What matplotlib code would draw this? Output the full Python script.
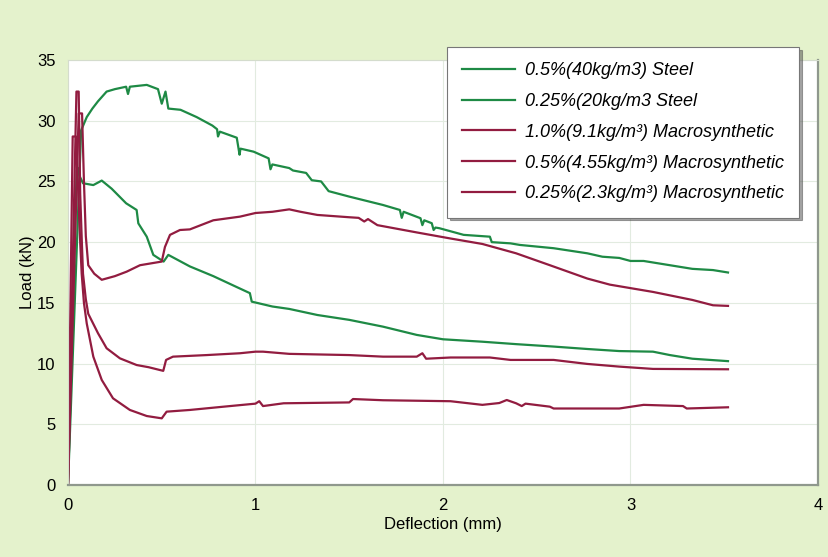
import numpy as np
import matplotlib
matplotlib.use('Agg')
import matplotlib.pyplot as plt

plt.rcParams['font.family'] = ['Liberation Sans', 'DejaVu Sans']

# curvas carga-deflexion
steel_05_x = [0, 0.07, 0.1, 0.13, 0.16, 0.206, 0.25, 0.31, 0.32, 0.33, 0.42, 0.48, 0.50, 0.52,
              0.535, 0.6, 0.686, 0.77, 0.795, 0.80, 0.81, 0.9, 0.915, 0.92, 0.99, 1.07, 1.08,
              1.09, 1.18, 1.2, 1.27, 1.3, 1.35, 1.39, 1.5, 1.68, 1.77, 1.78, 1.79, 1.88, 1.89,
              1.90, 1.94, 1.95, 1.96, 1.98, 2.11, 2.25, 2.26, 2.36, 2.41, 2.59, 2.77, 2.85, 2.94,
              3.0, 3.07, 3.21, 3.33, 3.44, 3.52]
steel_05_y = [0, 29.2, 30.3, 31.0, 31.6, 32.4, 32.6, 32.8, 32.2, 32.8, 32.95, 32.6, 31.4, 32.4,
              31.0, 30.9, 30.3, 29.6, 29.3, 28.7, 29.1, 28.6, 27.2, 27.7, 27.45, 26.9, 26.0,
              26.4, 26.1, 25.9, 25.7, 25.1, 25.0, 24.2, 23.75, 23.06, 22.65, 22.0, 22.5, 21.97, 21.4,
              21.8, 21.56, 21.0, 21.2, 21.15, 20.6, 20.45, 20.0, 19.9, 19.77, 19.5, 19.08, 18.8, 18.7,
              18.45, 18.45, 18.1, 17.8, 17.7, 17.5]

steel_025_x = [0, 0.046, 0.055, 0.06, 0.08, 0.135, 0.18, 0.233, 0.31, 0.366, 0.375, 0.42, 0.455,
               0.51, 0.535, 0.65, 0.775, 0.9, 0.97, 0.98, 1.09, 1.18, 1.33, 1.5, 1.68, 1.86, 2.0,
               2.21, 2.39, 2.59, 2.77, 2.94, 3.12, 3.21, 3.33, 3.52]
steel_025_y = [0, 25.9, 26.1, 25.5, 24.85, 24.7, 25.07, 24.4, 23.2, 22.65, 21.55, 20.45, 18.95,
               18.4, 18.95, 18.0, 17.2, 16.3, 15.8, 15.1, 14.7, 14.5, 14.0, 13.6, 13.04, 12.36, 12.0,
               11.8, 11.6, 11.4, 11.2, 11.03, 10.98, 10.7, 10.4, 10.2]

macro_10_x = [0, 0.057, 0.075, 0.085, 0.095, 0.108, 0.14, 0.18, 0.25, 0.313, 0.384, 0.5, 0.517,
              0.544, 0.597, 0.65, 0.775, 0.917, 1.0, 1.09, 1.18, 1.24, 1.33, 1.5, 1.55, 1.58, 1.6,
              1.65, 1.72, 1.86, 2.04, 2.21, 2.39, 2.57, 2.77, 2.89, 3.12, 3.33, 3.44, 3.52]
macro_10_y = [0, 30.6, 30.6, 25.0, 20.5, 18.1, 17.4, 16.9, 17.2, 17.57, 18.1, 18.4, 19.6,
              20.6, 21.0, 21.05, 21.8, 22.1, 22.4, 22.5, 22.7, 22.5, 22.24, 22.05, 22.0, 21.7, 21.9,
              21.4, 21.2, 20.8, 20.3, 19.85, 19.08, 18.1, 17.0, 16.5, 15.9, 15.24, 14.8, 14.75]

macro_05_x = [0, 0.045, 0.057, 0.065, 0.075, 0.08, 0.095, 0.108, 0.16, 0.206, 0.277, 0.366, 0.43,
              0.508, 0.523, 0.56, 0.74, 0.917, 1.0, 1.04, 1.18, 1.5, 1.68, 1.86, 1.89, 1.91, 2.04,
              2.25, 2.36, 2.59, 2.77, 2.94, 3.12, 3.52]
macro_05_y = [0, 32.4, 32.4, 24.0, 19.5, 17.4, 15.3, 14.1, 12.5, 11.26, 10.43, 9.88, 9.7,
              9.4, 10.3, 10.57, 10.7, 10.85, 10.98, 10.98, 10.8, 10.7, 10.57, 10.57, 10.85, 10.4, 10.5,
              10.5, 10.3, 10.3, 9.97, 9.75, 9.56, 9.53]

macro_025_x = [0, 0.025, 0.043, 0.055, 0.065, 0.073, 0.085, 0.1, 0.135, 0.18, 0.24, 0.33, 0.42,
               0.5, 0.526, 0.65, 0.83, 1.0, 1.02, 1.04, 1.15, 1.5, 1.52, 1.68, 2.04, 2.21, 2.30,
               2.34, 2.39, 2.42, 2.44, 2.57, 2.59, 2.94, 3.07, 3.28, 3.3, 3.52]
macro_025_y = [0, 28.7, 28.7, 24.0, 20.0, 17.4, 15.0, 13.3, 10.57, 8.65, 7.14, 6.18, 5.68,
               5.49, 6.04, 6.18, 6.45, 6.7, 6.9, 6.5, 6.73, 6.8, 7.08, 6.98, 6.9, 6.6, 6.75,
               7.0, 6.73, 6.5, 6.7, 6.45, 6.3, 6.3, 6.6, 6.5, 6.3, 6.4]

etiquetas = ['0.5%(40kg/m3) Steel', '0.25%(20kg/m3 Steel',
             '1.0%(9.1kg/m³) Macrosynthetic', '0.5%(4.55kg/m³) Macrosynthetic',
             '0.25%(2.3kg/m³) Macrosynthetic']

verde = '#1e8a45'
rojo = '#921c40'

fig = plt.figure(figsize=(8.29, 5.57), dpi=100)
fig.patch.set_facecolor('#e4f2cc')
ax = fig.add_axes([68/829, 1 - 485/557, 750/829, 425/557])
ax.set_facecolor('white')

l1, = ax.plot(steel_05_x, steel_05_y, color=verde, lw=1.6)
l2, = ax.plot(steel_025_x, steel_025_y, color=verde, lw=1.6)
l3, = ax.plot(macro_10_x, macro_10_y, color=rojo, lw=1.6)
l4, = ax.plot(macro_05_x, macro_05_y, color=rojo, lw=1.6)
l5, = ax.plot(macro_025_x, macro_025_y, color=rojo, lw=1.6)

ax.set_xlim(0, 4)
ax.set_ylim(0, 35)
ax.set_xticks([0, 1, 2, 3, 4])
ax.set_yticks(np.arange(0, 36, 5))
ax.tick_params(length=0, labelsize=12, pad=9)
ax.grid(True, color='#e2ebe0', lw=0.8)
ax.set_axisbelow(True)
ax.set_xlabel('Deflection (mm)', fontsize=12, labelpad=3)
ax.set_ylabel('Load (kN)', fontsize=12, labelpad=1)

for lado in ['top', 'left']:
    ax.spines[lado].set_color('#d4dccd')
    ax.spines[lado].set_linewidth(0.8)
for lado in ['bottom', 'right']:
    ax.spines[lado].set_color('#8f988d')
    ax.spines[lado].set_linewidth(1.6)

leg = fig.legend([l1, l2, l3, l4, l5], etiquetas, loc='upper left',
                 bbox_to_anchor=(447/829, 1 - 47/557), borderaxespad=0,
                 prop={'style': 'italic', 'size': 13},
                 frameon=True, fancybox=False, shadow=True, handlelength=2.9,
                 handletextpad=0.55, labelspacing=0.76, borderpad=0.85)
leg.get_frame().set_edgecolor('#777777')
leg.get_frame().set_linewidth(0.8)

fig.savefig('out.png', dpi=100, facecolor=fig.get_facecolor())
